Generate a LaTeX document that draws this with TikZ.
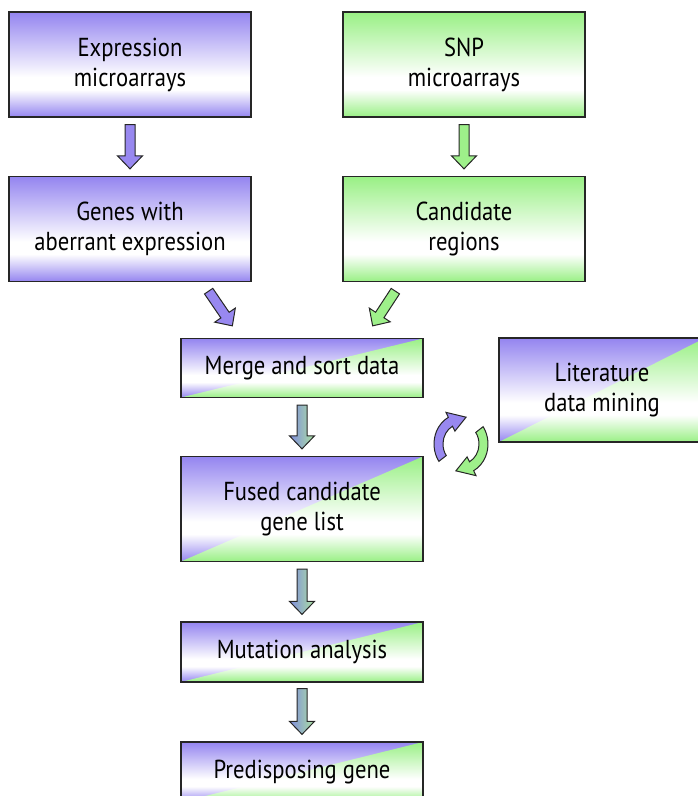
\documentclass[tikz,border=0pt]{standalone}
\usepackage{fontspec}
\setmainfont[FakeStretch=0.87]{PT Sans}
\usetikzlibrary{calc}
\definecolor{purp}{RGB}{152,136,240}
\definecolor{grn}{RGB}{158,240,138}
\definecolor{arrL}{RGB}{128,140,222}
\definecolor{arrR}{RGB}{172,226,160}
\pgfdeclareverticalshading{pshade}{100bp}{rgb(0bp)=(0.58,0.52,0.94); rgb(25bp)=(0.58,0.52,0.94); rgb(38bp)=(1,1,1); rgb(44bp)=(1,1,1); rgb(75bp)=(0.58,0.52,0.94); rgb(100bp)=(0.58,0.52,0.94)}
\pgfdeclareverticalshading{gshade}{100bp}{rgb(0bp)=(0.60,0.94,0.52); rgb(25bp)=(0.60,0.94,0.52); rgb(38bp)=(1,1,1); rgb(44bp)=(1,1,1); rgb(75bp)=(0.60,0.94,0.52); rgb(100bp)=(0.60,0.94,0.52)}
\newcommand{\blockarr}[3]{%
  \coordinate (BS) at #2; \coordinate (BT) at #3;
  \coordinate (BH) at ($(BT)!13pt!(BS)$);
  \draw[arrline,#1] ($(BS)!5pt!90:(BT)$) -- ($(BH)!5pt!90:(BT)$) -- ($(BH)!12.5pt!90:(BT)$) -- (BT)
    -- ($(BH)!12.5pt!-90:(BT)$) -- ($(BH)!5pt!-90:(BT)$) -- ($(BS)!5pt!-90:(BT)$) -- cycle;}
\begin{document}
\begin{tikzpicture}[x=1pt,y=-1pt,
  box/.style={draw=black!85, line width=1.3pt, minimum width=242, inner sep=0pt, align=center,
    font=\fontsize{26}{30}\selectfont, shade, shading=pshade},
  gbox/.style={box, shading=gshade},
  mixbox/.style={box, path picture={
      \clip (path picture bounding box.south west) -- (path picture bounding box.north east) |- cycle;
      \shade[shading=gshade] (path picture bounding box.south west) rectangle (path picture bounding box.north east);}},
  tall/.style={minimum height=105},
  short/.style={minimum height=59},
  arrline/.style={draw=black!85, line width=1pt},
  parr/.style={fill=purp},
  garr/.style={fill=grn},
  marr/.style={left color=arrL, right color=arrR}
]
\useasboundingbox (0,0) rectangle (698,796);
\clip (0,0) rectangle (698,796);
\node[box,tall] (expr) at (130,64.5) {Expression\\microarrays};
\node[gbox,tall] (snp) at (464,64.5) {SNP\\microarrays};
\node[box,tall] (genes) at (130,229) {Genes with\\aberrant expression};
\node[gbox,tall] (cand) at (464,229) {Candidate\\regions};
\node[mixbox,short] (merge) at (302,368) {Merge and sort data};
\node[mixbox,minimum width=206,minimum height=104] (lit) at (602,390) {Literature\\data mining};
\node[mixbox,tall] (fused) at (302,509) {Fused candidate\\gene list};
\node[mixbox,minimum height=60] (mut) at (302,652) {Mutation analysis};
\node[mixbox,minimum height=60] (pred) at (302,772) {Predisposing gene};

\blockarr{parr}{($(expr.south)+(0,7)$)}{($(genes.north)+(0,-7)$)}
\blockarr{garr}{($(snp.south)+(0,7)$)}{($(cand.north)+(0,-7)$)}
\blockarr{parr}{($(genes.south east)+(-43,9)$)}{($(merge.north west)+(52,-12)$)}
\blockarr{garr}{($(cand.south west)+(53,9)$)}{($(merge.north east)+(-51,-12)$)}
\blockarr{marr}{($(merge.south)+(0,7)$)}{($(fused.north)+(0,-7)$)}
\blockarr{marr}{($(fused.south)+(0,7)$)}{($(mut.north)+(0,-7)$)}
\blockarr{marr}{($(mut.south)+(0,6)$)}{($(pred.north)+(0,-7)$)}

\coordinate (cyc) at (461,444);
\begin{scope}[shift={(cyc)}, yscale=1.12]
\draw[arrline,fill=purp] (145:27) arc[start angle=145,end angle=242,radius=27]
  -- (242:32) -- (282:24.5) -- (242:13) -- (242:18) arc[start angle=242,end angle=145,radius=18] -- cycle;
\draw[arrline,fill=grn] (325:27) arc[start angle=325,end angle=422,radius=27]
  -- (422:32) -- (462:24.5) -- (422:13) -- (422:18) arc[start angle=422,end angle=325,radius=18] -- cycle;
\end{scope}
\end{tikzpicture}
\end{document}
